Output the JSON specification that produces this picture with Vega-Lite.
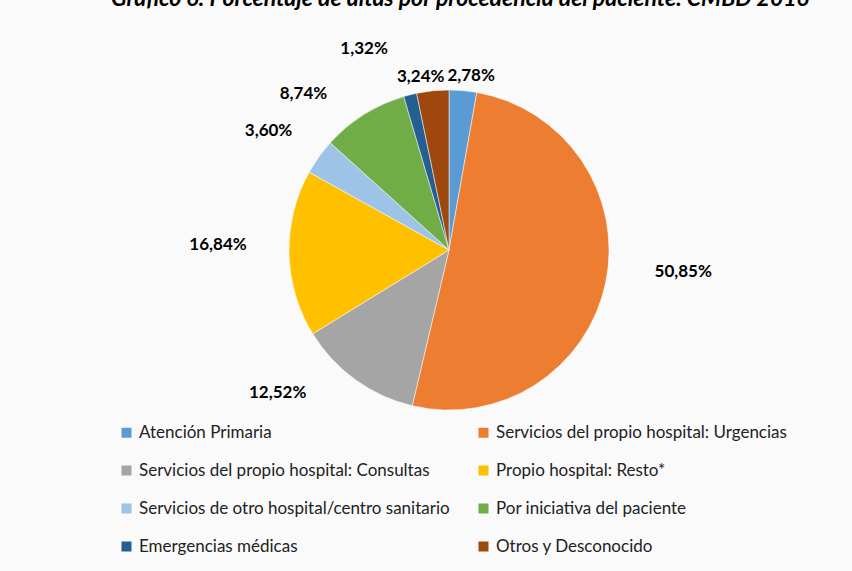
{
  "$schema": "https://vega.github.io/schema/vega-lite/v6.json",
  "autosize": {"type": "none"},
  "width": 806,
  "height": 480,
  "padding": {"left": 46, "top": 10, "right": 0, "bottom": 81},
  "background": "#fafafa",
  "title": {
    "text": "Gráfico 6: Porcentaje de altas por procedencia del paciente. CMBD 2016",
    "font": "Lato",
    "fontSize": 23,
    "fontStyle": "italic",
    "fontWeight": "bold",
    "color": "#000000",
    "anchor": "middle",
    "dx": 11,
    "offset": -1
  },
  "data": {
    "values": [
      {"ord": 1, "categoria": "Atención Primaria", "pct": 0.0278},
      {"ord": 2, "categoria": "Servicios del propio hospital: Urgencias", "pct": 0.5085},
      {"ord": 3, "categoria": "Servicios del propio hospital: Consultas", "pct": 0.1252},
      {"ord": 4, "categoria": "Propio hospital: Resto*", "pct": 0.1684},
      {"ord": 5, "categoria": "Servicios de otro hospital/centro sanitario", "pct": 0.036},
      {"ord": 6, "categoria": "Por iniciativa del paciente", "pct": 0.0874},
      {"ord": 7, "categoria": "Emergencias médicas", "pct": 0.0132},
      {"ord": 8, "categoria": "Otros y Desconocido", "pct": 0.0324}
    ]
  },
  "encoding": {
    "theta": {"field": "pct", "type": "quantitative", "stack": true},
    "order": {"field": "ord", "type": "quantitative"}
  },
  "layer": [
    {
      "mark": {"type": "arc", "outerRadius": 160, "stroke": "#ffffff", "strokeWidth": 0.5},
      "encoding": {
        "color": {
          "field": "categoria",
          "type": "nominal",
          "sort": null,
          "scale": {
            "domain": ["Atención Primaria", "Servicios del propio hospital: Consultas", "Servicios de otro hospital/centro sanitario", "Emergencias médicas", "Servicios del propio hospital: Urgencias", "Propio hospital: Resto*", "Por iniciativa del paciente", "Otros y Desconocido"],
            "range": ["#5B9BD5", "#A5A5A5", "#9DC3E6", "#255E91", "#ED7D31", "#FFC000", "#70AD47", "#9E480E"]
          },
          "legend": {
            "orient": "none",
            "legendX": 72,
            "legendY": 414,
            "title": null,
            "columns": 2,
            "symbolType": "square",
            "symbolSize": 100,
            "symbolStrokeWidth": 0,
            "labelFont": "Lato",
            "labelFontSize": 17,
            "labelColor": "#222222",
            "labelLimit": 400,
            "labelOffset": 4,
            "rowPadding": 20,
            "columnPadding": 25
          }
        }
      }
    },
    {
      "mark": {"type": "text", "radius": 185, "dx": 6, "dy": 10, "font": "Lato", "fontSize": 17, "fontWeight": "bold", "color": "#000000"},
      "encoding": {"text": {"condition": {"test": "datum.ord == 1", "field": "pct", "format": ".2%"}, "value": ""}}
    },
    {
      "mark": {"type": "text", "radius": 185, "dx": 53, "dy": -15, "font": "Lato", "fontSize": 17, "fontWeight": "bold", "color": "#000000"},
      "encoding": {"text": {"condition": {"test": "datum.ord == 2", "field": "pct", "format": ".2%"}, "value": ""}}
    },
    {
      "mark": {"type": "text", "radius": 185, "dx": -63, "dy": -7, "font": "Lato", "fontSize": 17, "fontWeight": "bold", "color": "#000000"},
      "encoding": {"text": {"condition": {"test": "datum.ord == 3", "field": "pct", "format": ".2%"}, "value": ""}}
    },
    {
      "mark": {"type": "text", "radius": 185, "dx": -46, "dy": -9, "font": "Lato", "fontSize": 17, "fontWeight": "bold", "color": "#000000"},
      "encoding": {"text": {"condition": {"test": "datum.ord == 4", "field": "pct", "format": ".2%"}, "value": ""}}
    },
    {
      "mark": {"type": "text", "radius": 185, "dx": -30, "dy": -11, "font": "Lato", "fontSize": 17, "fontWeight": "bold", "color": "#000000"},
      "encoding": {"text": {"condition": {"test": "datum.ord == 5", "field": "pct", "format": ".2%"}, "value": ""}}
    },
    {
      "mark": {"type": "text", "radius": 185, "dx": -47, "dy": 1, "font": "Lato", "fontSize": 17, "fontWeight": "bold", "color": "#000000"},
      "encoding": {"text": {"condition": {"test": "datum.ord == 6", "field": "pct", "format": ".2%"}, "value": ""}}
    },
    {
      "mark": {"type": "text", "radius": 185, "dx": -40, "dy": -22, "font": "Lato", "fontSize": 17, "fontWeight": "bold", "color": "#000000"},
      "encoding": {"text": {"condition": {"test": "datum.ord == 7", "field": "pct", "format": ".2%"}, "value": ""}}
    },
    {
      "mark": {"type": "text", "radius": 180, "dx": -10, "dy": 6, "font": "Lato", "fontSize": 17, "fontWeight": "bold", "color": "#000000"},
      "encoding": {"text": {"condition": {"test": "datum.ord == 8", "field": "pct", "format": ".2%"}, "value": ""}}
    }
  ],
  "config": {
    "locale": {
      "number": {"decimal": ",", "thousands": ".", "grouping": [3], "currency": ["", " €"]}
    },
    "view": {"stroke": null}
  }
}
